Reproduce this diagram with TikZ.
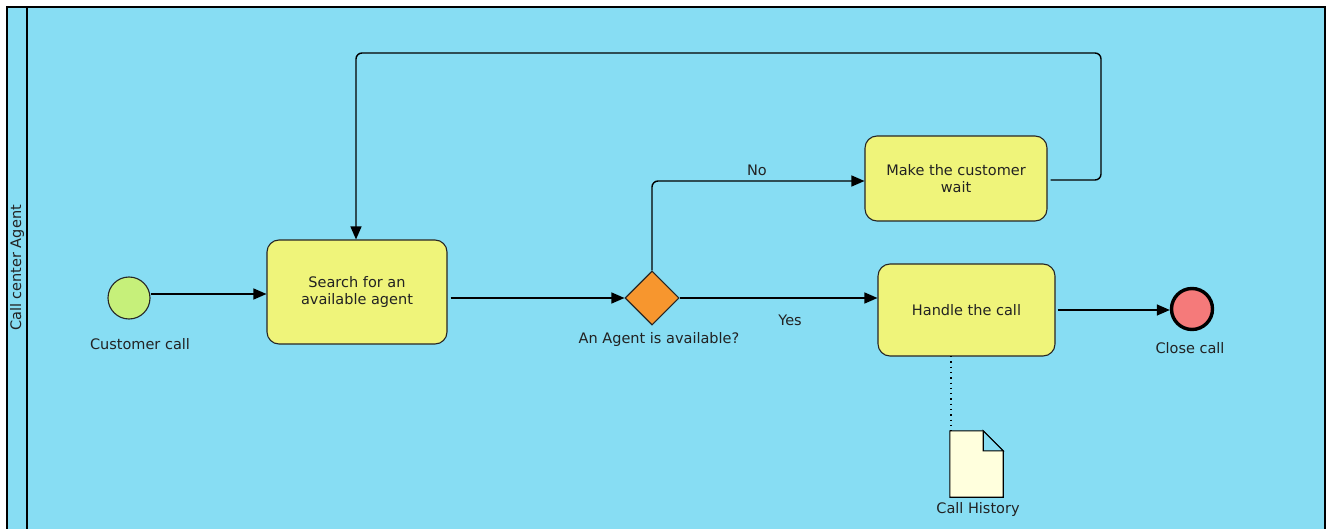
\documentclass[tikz,border=0pt]{standalone}
\usepackage{fontspec}
\setmainfont{DejaVu Sans}
\usetikzlibrary{shapes.geometric,arrows.meta}
\definecolor{lanebg}{RGB}{135,221,243}
\definecolor{taskfill}{RGB}{239,244,122}
\definecolor{startfill}{RGB}{198,240,122}
\definecolor{gwfill}{RGB}{247,150,46}
\definecolor{endfill}{RGB}{245,122,122}
\definecolor{docfill}{RGB}{255,255,221}
\definecolor{txt}{RGB}{34,34,34}
\begin{document}
\begin{tikzpicture}[x=1pt,y=-1pt,
  every node/.style={font=\fontsize{14.5}{17}\selectfont, text=txt},
  task/.style={draw=black!85, line width=1.1pt, fill=taskfill, rounded corners=12pt, align=center, inner sep=0pt},
  startev/.style={circle, draw=black!85, line width=1.1pt, fill=startfill, minimum size=42pt, inner sep=0pt},
  endev/.style={circle, draw=black, line width=3.4pt, fill=endfill, minimum size=41pt, inner sep=0pt},
  gw/.style={diamond, draw=black!85, line width=1.1pt, fill=gwfill, minimum width=54pt, minimum height=54pt, inner sep=0pt},
  flow/.style={line width=1.4pt, rounded corners=6pt, -{Triangle[length=13pt,width=11pt]}},
  lbl/.style={inner sep=0pt}
]
\useasboundingbox (0,0) rectangle (1330,529);
\fill[white] (0,0) rectangle (1330,529);
% lane
\draw[line width=1.1pt, fill=lanebg] (7,7) -- (7,540) -- (1325,540) -- (1325,7) -- cycle;
\draw[line width=1.1pt] (27,7) -- (27,540);
\node[rotate=90, lbl] (lanelabel) at (17,268) {Call center Agent};

% nodes
\node[startev] (start) at (129,298) {};
\node[lbl] (startlbl) at (140,344) {Customer call};
\node[task, minimum width=180pt, minimum height=104pt] (search) at (357,292) {Search for an\\available agent};
\node[gw] (gw) at (652,298) {};
\node[lbl] (gwlbl) at (659,339) {An Agent is available?};
\node[task, minimum width=182pt, minimum height=85pt] (wait) at (956,178.5) {Make the customer\\wait};
\node[task, minimum width=177pt, minimum height=92pt] (handle) at (966.5,310) {Handle the call};
\node[endev] (end) at (1192,309) {};
\node[lbl] (endlbl) at (1190,348) {Close call};

% data object
\node[minimum width=53pt, minimum height=66pt, inner sep=0pt] (doc) at (976.5,464) {};
\draw[line width=1.1pt, fill=docfill] (doc.north west) -- ([xshift=-20pt]doc.north east) -- ([yshift=-20pt]doc.north east) -- (doc.south east) -- (doc.south west) -- cycle;
\draw[line width=1.1pt, fill=lanebg] ([xshift=-20pt]doc.north east) -- ([xshift=-20pt,yshift=-20pt]doc.north east) -- ([yshift=-20pt]doc.north east) -- cycle;
\node[lbl] (doclbl) at (978,509) {Call History};

% flows
\draw[flow] (start.east |- 0,294) -- (search.west |- 0,294);
\draw[flow] ([xshift=3pt]search.east |- 0,298) -- (gw.west);
\draw[flow] (gw.north) -- (652,181) -- (wait.west |- 0,181);
\node[lbl] (nolbl) at (757,170) {No};
\draw[flow] (gw.east) -- (handle.west |- 0,298);
\node[lbl] (yeslbl) at (790,320) {Yes};
\draw[flow] ([xshift=2pt]handle.east) -- (end.west |- handle.east);
\draw[flow] ([xshift=3pt]wait.east |- 0,180) -- (1101,180) -- (1101,53) -- (356,53) -- (search.north -| 356,0);
\draw[line width=1.3pt, dash pattern=on 1.3pt off 4pt] (951,356) -- (doc.north west -| 951,0);
\end{tikzpicture}
\end{document}
